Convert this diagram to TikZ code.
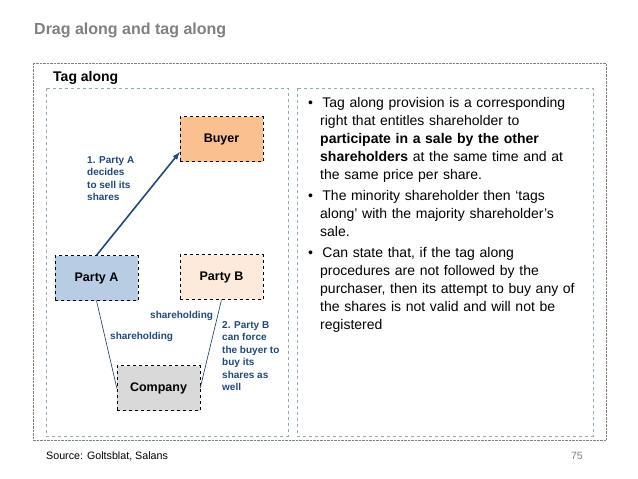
\documentclass[tikz,border=0pt]{standalone}
\usepackage{fontspec}
\setmainfont{Liberation Sans}
\definecolor{tblue}{RGB}{31,73,125}
\definecolor{ttl}{RGB}{128,128,128}
\definecolor{pa}{RGB}{184,204,228}
\definecolor{by}{RGB}{250,192,144}
\definecolor{pb}{RGB}{253,234,218}
\definecolor{co}{RGB}{217,217,217}
\definecolor{frm}{RGB}{140,170,190}
\tikzset{ent/.style={draw,dashed,minimum width=83pt,minimum height=45pt,font=\bfseries\fontsize{12.5}{14}\selectfont},
lbl/.style={text=tblue,font=\bfseries\fontsize{10}{12.5}\selectfont,align=left,anchor=north west,inner sep=0pt},
lnk/.style={draw=tblue!70!black,semithick}}
\begin{document}
\begin{tikzpicture}[x=1pt,y=-1pt]
\useasboundingbox[fill=white] (0,0) rectangle (638,479);
\node[anchor=west,text=ttl,font=\bfseries\fontsize{16}{18}\selectfont,inner sep=0pt] (title) at (34,30) {Drag along and tag along};
\draw[densely dotted,gray] (33,63) rectangle (606,440);
\node[anchor=west,font=\bfseries\fontsize{14}{16}\selectfont,inner sep=0pt] (tag) at (53,78) {Tag along};
\draw[dashed,frm] (46,88) rectangle (288,436);
\draw[dashed,frm] (297,88) rectangle (593,436);
\node[ent,fill=by] (buyer) at (221.5,139) {Buyer};
\node[ent,fill=pa] (pa) at (96.5,278) {Party A};
\node[ent,fill=pb] (pb) at (221.5,277) {Party B};
\node[ent,fill=co] (co) at (158.5,388) {Company};
\draw[tblue,line width=1.6pt,-latex] (pa.north) -- (buyer.south west |- 0,152);
\draw[lnk] (pa.south) -- (co.west);
\draw[lnk] (co.east) -- (pb.south);
\node[lbl] (l1) at (87,156) {1. Party A\\decides\\to sell its\\shares};
\node[lbl] (l2) at (150,311) {shareholding};
\node[lbl] (l3) at (110,332) {shareholding};
\node[lbl] (l4) at (222,321) {2. Party B\\can force\\the buyer to\\buy its\\shares as\\well};
\node[anchor=north west,align=left,inner sep=0pt,font=\fontsize{14}{18}\selectfont,text width=290pt] (txt) at (308,97) {%
\textbullet\ \ Tag along provision is a corresponding\\
\hspace*{12pt}right that entitles shareholder to\\
\hspace*{12pt}\textbf{participate in a sale by the other}\\
\hspace*{12pt}\textbf{shareholders} at the same time and at\\
\hspace*{12pt}the same price per share.\\[3pt]
\textbullet\ \ The minority shareholder then ‘tags\\
\hspace*{12pt}along’ with the majority shareholder’s\\
\hspace*{12pt}sale.\\[3pt]
\textbullet\ \ Can state that, if the tag along\\
\hspace*{12pt}procedures are not followed by the\\
\hspace*{12pt}purchaser, then its attempt to buy any of\\
\hspace*{12pt}the shares is not valid and will not be\\
\hspace*{12pt}registered};
\node[anchor=west,font=\fontsize{10.7}{12}\selectfont,inner sep=0pt] (src) at (46,456) {Source: Goltsblat, Salans};
\node[anchor=east,text=ttl,font=\fontsize{10.5}{12}\selectfont,inner sep=0pt] (pg) at (583,456) {75};
\end{tikzpicture}
\end{document}
